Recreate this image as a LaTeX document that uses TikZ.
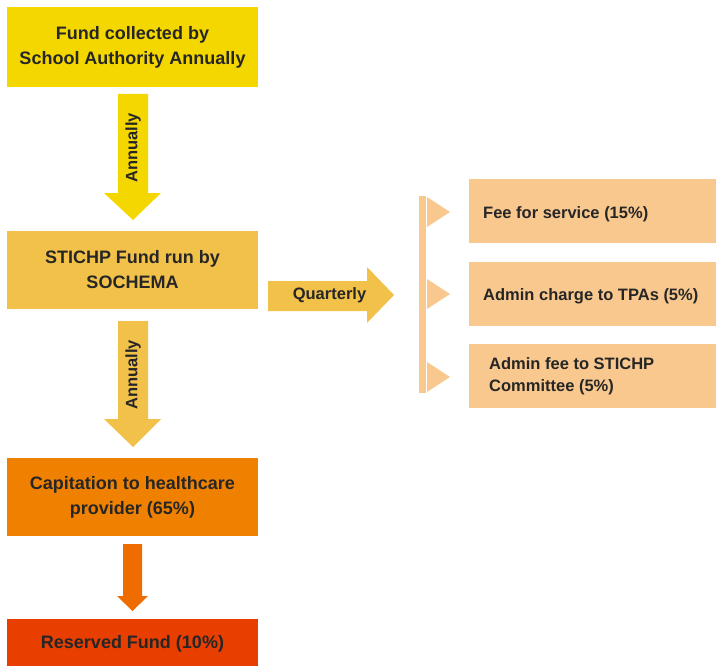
\documentclass[tikz,border=0pt]{standalone}
\usepackage{fontspec}
\setmainfont{Liberation Sans}
\definecolor{cyellow}{RGB}{245,215,0}
\definecolor{cgold}{RGB}{241,193,74}
\definecolor{corange}{RGB}{240,129,0}
\definecolor{carrow}{RGB}{238,108,0}
\definecolor{cred}{RGB}{232,62,0}
\definecolor{cpeach}{RGB}{249,200,142}
\definecolor{ctext}{RGB}{38,38,38}
\begin{document}
\begin{tikzpicture}[x=1bp,y=-1bp,
  mainbox/.style={minimum width=251bp,inner sep=0pt,text=ctext,align=center,
    font=\fontsize{18bp}{25bp}\selectfont\bfseries},
  sidebox/.style={fill=cpeach,minimum width=247bp,minimum height=64bp,inner sep=0pt,anchor=north west},
  sidetext/.style={text=ctext,align=left,anchor=west,inner sep=0pt,
    font=\fontsize{16.5bp}{22bp}\selectfont\bfseries},
  arrowlabel/.style={text=ctext,inner sep=0pt,font=\fontsize{16.5bp}{20bp}\selectfont\bfseries}]
\useasboundingbox (0,0) rectangle (716,666);
% left column boxes
\node[mainbox,fill=cyellow,minimum height=80bp] (b1) at (132.5,47) {Fund collected by\\School Authority Annually};
\node[mainbox,fill=cgold,minimum height=78bp] (b2) at (132.5,270) {STICHP Fund run by\\SOCHEMA};
\node[mainbox,fill=corange,minimum height=78bp] (b3) at (132.5,497) {Capitation to healthcare\\provider (65\%)};
\node[mainbox,fill=cred,minimum height=50bp] (b4) at (132.5,644) {Reserved Fund (10\%)};
% block arrows
\fill[cyellow] (118,94) -- (148,94) -- (148,193) -- (161,193) -- (133,220) -- (104,193) -- (118,193) -- cycle;
\node[arrowlabel,rotate=90] (l1) at (133,148) {Annually};
\fill[cgold] (118,321) -- (148,321) -- (148,419) -- (161,419) -- (133,447) -- (104,419) -- (118,419) -- cycle;
\node[arrowlabel,rotate=90] (l2) at (133,375) {Annually};
\fill[cgold] (268,281) -- (367,281) -- (367,267) -- (394,295) -- (367,323) -- (367,311) -- (268,311) -- cycle;
\node[arrowlabel] (l3) at (329.5,295) {Quarterly};
\fill[carrow] (123,544) -- (142,544) -- (142,596) -- (148,596) -- (132.5,611) -- (117,596) -- (123,596) -- cycle;
% right bracket
\fill[cpeach] (419,196) rectangle (426,393);
\foreach \yy in {212,294,377}{
  \fill[cpeach] (427,\yy-15) -- (450,\yy) -- (427,\yy+15) -- cycle;
}
% right boxes
\node[sidebox] (r1) at (469,179) {};
\node[sidebox] (r2) at (469,262) {};
\node[sidebox] (r3) at (469,344) {};
\node[sidetext] (t1) at (483,214) {Fee for service (15\%)};
\node[sidetext] (t2) at (483,296) {Admin charge to TPAs (5\%)};
\node[sidetext] (t3) at (489,376) {Admin fee to STICHP\\Committee (5\%)};
\end{tikzpicture}
\end{document}
